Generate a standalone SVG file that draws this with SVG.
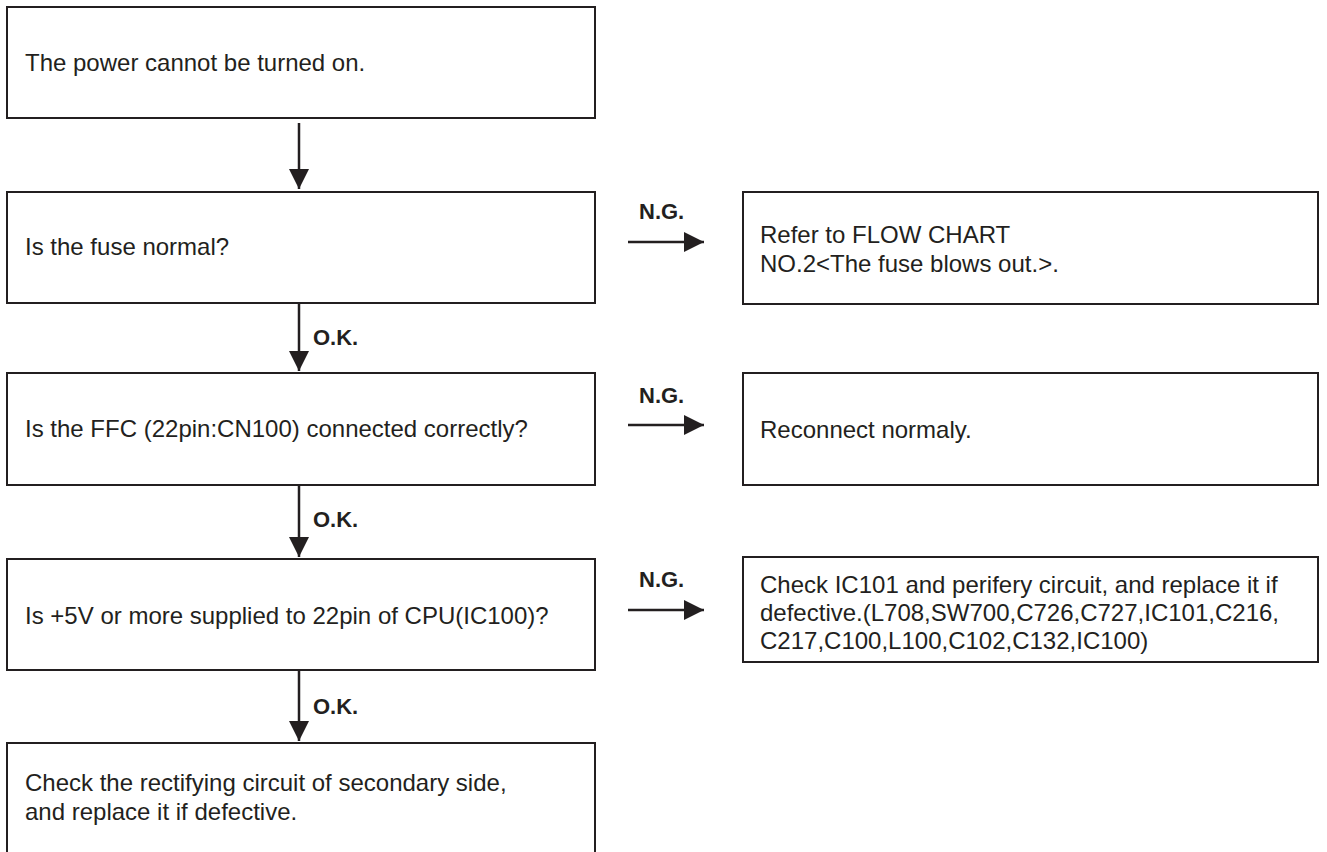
<svg xmlns="http://www.w3.org/2000/svg" width="1327" height="852" viewBox="0 0 1327 852">
<style>
.box{fill:#fff;stroke:#231f20;stroke-width:2}
.t{font-family:"Liberation Sans",Arial,sans-serif;font-size:24px;fill:#231f20}
.lbl{font-family:"Liberation Sans",Arial,sans-serif;font-size:22px;font-weight:bold;fill:#231f20}
.c{stroke:#231f20;stroke-width:2.5;fill:none}
</style>
<defs>
<marker id="ah" markerUnits="userSpaceOnUse" markerWidth="20" markerHeight="20" viewBox="0 0 20 20" refX="20" refY="10" orient="auto">
<path d="M0,0 L20,10 L0,20 Z" fill="#231f20"/>
</marker>
</defs>
<rect width="1327" height="852" fill="#fff"/>
<g id="n1"><rect class="box" x="7" y="7" width="588" height="111"/><text class="t" x="25" y="71">The power cannot be turned on.</text></g>
<g id="n2"><rect class="box" x="7" y="192" width="588" height="111"/><text class="t" x="25" y="255">Is the fuse normal?</text></g>
<g id="n3"><rect class="box" x="7" y="373" width="588" height="112"/><text class="t" x="25" y="437">Is the FFC (22pin:CN100) connected correctly?</text></g>
<g id="n4"><rect class="box" x="7" y="559" width="588" height="111"/><text class="t" x="25" y="624">Is +5V or more supplied to 22pin of CPU(IC100)?</text></g>
<g id="n5"><rect class="box" x="7" y="743" width="588" height="115"/><text class="t" x="25" y="791">Check the rectifying circuit of secondary side,</text><text class="t" x="25" y="820">and replace it if defective.</text></g>
<g id="r1"><rect class="box" x="743" y="192" width="575" height="112"/><text class="t" x="760" y="243">Refer to FLOW CHART</text><text class="t" x="760" y="272">NO.2&lt;The fuse blows out.&gt;.</text></g>
<g id="r2"><rect class="box" x="743" y="373" width="575" height="112"/><text class="t" x="760" y="438">Reconnect normaly.</text></g>
<g id="r3"><rect class="box" x="743" y="557" width="575" height="105"/><text class="t" x="760" y="593">Check IC101 and perifery circuit, and replace it if</text><text class="t" x="760" y="621">defective.(L708,SW700,C726,C727,IC101,C216,</text><text class="t" x="760" y="649">C217,C100,L100,C102,C132,IC100)</text></g>
<g id="connectors">
<line class="c" x1="299" y1="123" x2="299" y2="189" marker-end="url(#ah)"/>
<line class="c" x1="299" y1="303" x2="299" y2="371" marker-end="url(#ah)"/>
<line class="c" x1="299" y1="485" x2="299" y2="557" marker-end="url(#ah)"/>
<line class="c" x1="299" y1="670" x2="299" y2="741" marker-end="url(#ah)"/>
<text class="lbl" x="313" y="345">O.K.</text>
<text class="lbl" x="313" y="527">O.K.</text>
<text class="lbl" x="313" y="714">O.K.</text>
<line class="c" x1="628" y1="242" x2="704" y2="242" marker-end="url(#ah)"/>
<line class="c" x1="628" y1="425" x2="704" y2="425" marker-end="url(#ah)"/>
<line class="c" x1="628" y1="610" x2="704" y2="610" marker-end="url(#ah)"/>
<text class="lbl" x="639" y="219">N.G.</text>
<text class="lbl" x="639" y="403">N.G.</text>
<text class="lbl" x="639" y="587">N.G.</text>
</g>
</svg>
